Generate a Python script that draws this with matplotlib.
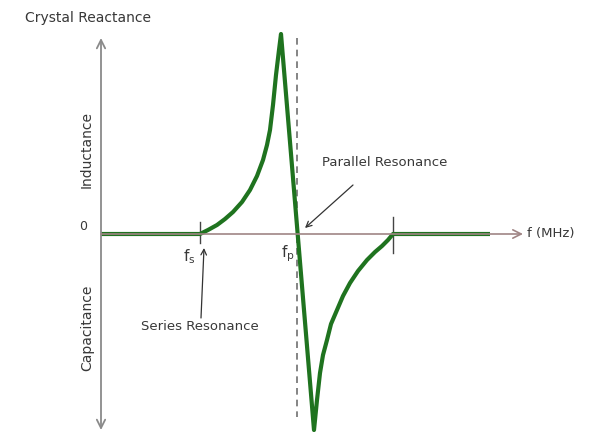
import matplotlib
matplotlib.use("Agg")
import matplotlib.pyplot as plt

# reactance curve of the crystal (schematic)
freq = [0.0, 0.99, 1.07, 1.16, 1.24, 1.32, 1.41, 1.49, 1.56, 1.62, 1.66,
        1.69, 1.72, 1.75, 1.78, 1.80,
        2.13, 2.16, 2.19, 2.22, 2.26, 2.30, 2.36, 2.42, 2.49, 2.57, 2.66,
        2.74, 2.81, 2.87, 2.92, 3.89]
react = [0.0, 0.0, 0.04, 0.09, 0.15, 0.22, 0.32, 0.44, 0.58, 0.74, 0.89,
         1.04, 1.29, 1.59, 1.84, 2.00,
         -1.96, -1.66, -1.39, -1.21, -1.06, -0.90, -0.76, -0.62, -0.49, -0.37,
         -0.26, -0.18, -0.12, -0.06, 0.0, 0.0]

f_s = 0.99
f_p = 1.955
f_end = 2.92
x_axis_end = 4.22
y_top = 1.96
y_bottom = -1.96

text_col = "#383838"
green = "#1f731f"

fig = plt.figure(figsize=(5.94, 4.34), dpi=100)
ax = fig.add_axes([0, 0, 1, 1])
ax.set_xlim(-1.01, 4.93)
ax.set_ylim(-2.0, 2.34)
ax.axis("off")

# axes with arrows
ax.annotate("", xy=(0, y_top), xytext=(0, y_bottom),
            arrowprops=dict(arrowstyle="<->,head_length=0.6,head_width=0.3",
                            color="#8a8a8a", lw=1.3, shrinkA=0, shrinkB=0))
ax.annotate("", xy=(x_axis_end, 0), xytext=(0, 0),
            arrowprops=dict(arrowstyle="->,head_length=0.6,head_width=0.3",
                            color="#a08585", lw=1.2, shrinkA=0, shrinkB=0))

# parallel resonance marker
ax.plot([f_p, f_p], [y_top, -1.83], color="#707070", lw=1.2, ls=(0, (4, 3)))

# ticks on the frequency axis
ax.plot([f_s, f_s], [0.12, -0.09], color="#444444", lw=1)
ax.plot([f_end, f_end], [0.17, -0.19], color="#444444", lw=1)

# the curve
ax.plot(freq, react, color=green, lw=3, solid_joinstyle="round",
        solid_capstyle="butt")

# labels
ax.text(-0.13, 2.16, "Crystal Reactance", ha="center", va="center",
        fontsize=10, color=text_col)
ax.text(-0.18, 0.07, "0", ha="center", va="center", fontsize=9, color=text_col)
ax.text(-0.14, 0.84, "Inductance", ha="center", va="center", rotation=90,
        fontsize=10, color=text_col)
ax.text(-0.14, -0.94, "Capacitance", ha="center", va="center", rotation=90,
        fontsize=10, color=text_col)
ax.text(4.26, 0.0, "f (MHz)", ha="left", va="center", fontsize=9.5,
        color=text_col)
ax.text(0.88, -0.23, r"$\mathregular{f_s}$", ha="center", va="center",
        fontsize=11, color=text_col)
ax.text(1.87, -0.20, r"$\mathregular{f_p}$", ha="center", va="center",
        fontsize=11, color=text_col)

ax.text(0.99, -0.93, "Series Resonance", ha="center", va="center",
        fontsize=9.5, color=text_col)
ax.annotate("", xy=(1.03, -0.14), xytext=(1.00, -0.84),
            arrowprops=dict(arrowstyle="->,head_length=0.4,head_width=0.2",
                            color="#333333", lw=0.9, shrinkA=0, shrinkB=0))

ax.text(2.84, 0.72, "Parallel Resonance", ha="center", va="center",
        fontsize=9.5, color=text_col)
ax.annotate("", xy=(2.04, 0.06), xytext=(2.52, 0.49),
            arrowprops=dict(arrowstyle="->,head_length=0.4,head_width=0.2",
                            color="#333333", lw=0.9, shrinkA=0, shrinkB=0))

fig.savefig("out.png", dpi=100)
